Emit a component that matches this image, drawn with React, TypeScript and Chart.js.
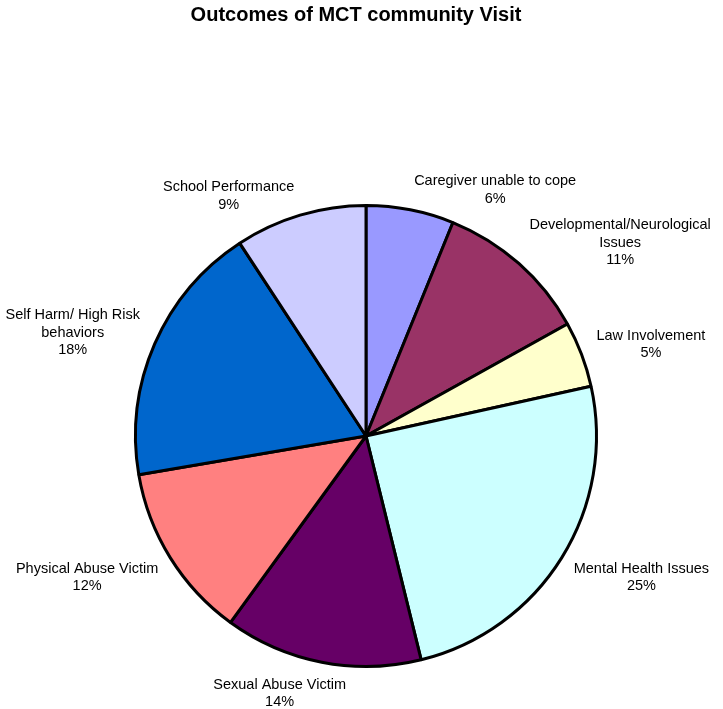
import React, { useEffect, useRef } from "react";
import { Chart, registerables } from "chart.js";

Chart.register(...registerables);

const TITLE = "Outcomes of MCT community Visit";
const categories: string[][] = [
  ["Caregiver unable to cope"],
  ["Developmental/Neurological", "Issues"],
  ["Law Involvement"],
  ["Mental Health Issues"],
  ["Sexual Abuse Victim"],
  ["Physical Abuse Victim"],
  ["Self Harm/ High Risk", "behaviors"],
  ["School Performance"],
];
const values = [4, 7, 3, 16, 9, 8, 12, 6];
const colors = [
  "#9999FF",
  "#993366",
  "#FFFFCC",
  "#CCFFFF",
  "#660066",
  "#FF8080",
  "#0066CC",
  "#CCCCFF",
];

const labelPlugin = {
  id: "outerLabels",
  afterDraw(chart: any) {
    const ctx = chart.ctx;
    const meta = chart.getDatasetMeta(0);
    const total = values.reduce((a, b) => a + b, 0);
    ctx.save();
    ctx.fillStyle = "#000";
    ctx.font = "bold 20px 'Liberation Sans', Arial, sans-serif";
    ctx.textAlign = "center";
    ctx.textBaseline = "middle";
    ctx.fillText(TITLE, 356, 15);

    ctx.font = "14.5px 'Liberation Sans', Arial, sans-serif";
    const lh = 17.5;
    meta.data.forEach((arc: any, i: number) => {
      const { x, y, startAngle, endAngle, outerRadius } = arc.getProps(
        ["x", "y", "startAngle", "endAngle", "outerRadius"],
        true
      );
      const mid = (startAngle + endAngle) / 2;
      const lines = [...categories[i], Math.round((values[i] / total) * 100) + "%"];
      const w = Math.max(...lines.map((l: string) => ctx.measureText(l).width));
      const h = lines.length * lh;
      const s = Math.cos(mid);
      const v = Math.sin(mid);
      const rr = outerRadius + 20;
      let cx: number, cy: number;
      if (v > 0.9) {
        cx = x + s * rr + s * w * 1.5;
        cy = y + v * rr + h / 2 - 6;
      } else if (v < -0.9) {
        cx = x + s * rr + (Math.sign(s) * w) / 2;
        cy = y + v * rr;
      } else if (v < 0) {
        cx = x + s * (outerRadius + 16) + (Math.sign(s) * w) / 2;
        cy = y + v * (rr + 8);
      } else {
        cx = x + s * (outerRadius + 14) + (Math.sign(s) * w) / 2;
        cy = y + v * rr + (v * h) / 2;
      }
      cx = Math.min(Math.max(cx, w / 2 + 1), chart.width - w / 2 - 1);
      lines.forEach((l: string, k: number) => {
        ctx.fillText(l, cx, cy - h / 2 + lh / 2 + k * lh);
      });
    });
    ctx.restore();
  },
};

export default function App() {
  const ref = useRef<HTMLCanvasElement>(null);
  useEffect(() => {
    document.body.style.margin = "0";
    const chart = new Chart(ref.current!, {
      type: "pie",
      data: {
        labels: categories.map((c) => c.join(" ")),
        datasets: [
          {
            data: values,
            backgroundColor: colors,
            borderColor: "#000",
            borderWidth: 3,
          },
        ],
      },
      options: {
        responsive: false,
        animation: false,
        layout: { padding: { left: 134, right: 125, top: 204, bottom: 41 } },
        plugins: {
          legend: { display: false },
          title: { display: false },
          tooltip: { enabled: false },
        },
      },
      plugins: [labelPlugin],
    });
    return () => chart.destroy();
  }, []);
  return (
    <div style={{ width: 723, height: 709 }}>
      <canvas ref={ref} width={723} height={709} style={{ display: "block" }} />
    </div>
  );
}
